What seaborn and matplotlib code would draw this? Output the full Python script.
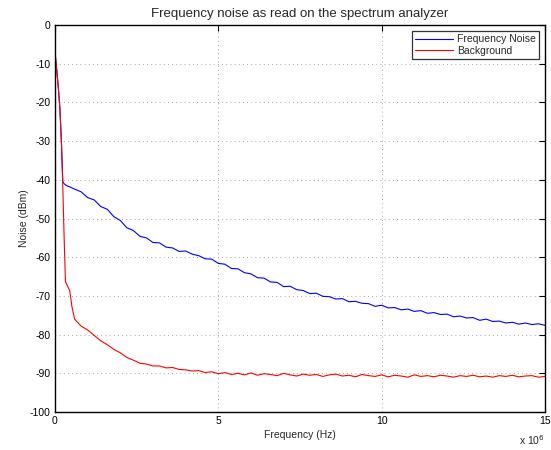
import numpy as np
import pandas as pd
import matplotlib
matplotlib.use("Agg")
import matplotlib.pyplot as plt
from matplotlib.ticker import FuncFormatter
import seaborn as sns

# frequency bins (MHz)
freq_mhz = [0.0, 0.05, 0.1, 0.15, 0.2, 0.24, 0.28, 0.32, 0.38, 0.45, 0.52, 0.6,
            0.8, 1.0, 1.2, 1.4, 1.6, 1.8, 2.0, 2.2, 2.4, 2.6, 2.8, 3.0,
            3.2, 3.4, 3.6, 3.8, 4.0, 4.2, 4.4, 4.6, 4.8, 5.0, 5.2, 5.4,
            5.6, 5.8, 6.0, 6.2, 6.4, 6.6, 6.8, 7.0, 7.2, 7.4, 7.6, 7.8,
            8.0, 8.2, 8.4, 8.6, 8.8, 9.0, 9.2, 9.4, 9.6, 9.8, 10.0, 10.2,
            10.4, 10.6, 10.8, 11.0, 11.2, 11.4, 11.6, 11.8, 12.0, 12.2, 12.4, 12.6,
            12.8, 13.0, 13.2, 13.4, 13.6, 13.8, 14.0, 14.2, 14.4, 14.6, 14.8, 15.0]

freq_noise = [-7.0, -11.3, -16.0, -21.5, -31.0, -40.5, -41.0, -41.3, -41.6, -41.8, -42.1, -42.4,
              -43.1, -44.6, -45.2, -46.9, -47.6, -49.5, -50.5, -52.4, -53.1, -54.6, -55.0, -56.2,
              -56.3, -57.4, -57.6, -58.5, -58.4, -59.2, -59.6, -60.4, -60.5, -61.6, -61.8, -62.9,
              -63.0, -64.0, -64.3, -65.3, -65.4, -66.4, -66.5, -67.6, -67.5, -68.4, -68.6, -69.4,
              -69.3, -70.1, -70.2, -70.8, -70.7, -71.5, -71.4, -71.9, -72.0, -72.7, -72.4, -73.1,
              -73.0, -73.6, -73.4, -74.0, -73.8, -74.5, -74.3, -74.8, -74.7, -75.4, -75.2, -75.7,
              -75.6, -76.3, -76.0, -76.6, -76.5, -77.0, -76.8, -77.3, -77.0, -77.4, -77.2, -77.6]

background = [-7.0, -11.3, -16.0, -21.5, -31.0, -42.0, -55.0, -66.3, -67.4, -68.6, -72.8, -76.0,
              -77.8, -78.8, -80.2, -81.6, -82.6, -83.8, -84.7, -85.9, -86.6, -87.4, -87.6, -88.1,
              -88.1, -88.6, -88.5, -89.0, -89.1, -89.4, -89.3, -89.8, -89.6, -90.1, -89.8, -90.3,
              -90.0, -90.4, -89.9, -90.5, -90.1, -90.3, -90.6, -90.0, -90.4, -90.7, -90.2, -90.5,
              -90.3, -90.8, -90.4, -90.2, -90.7, -90.5, -90.9, -90.3, -90.6, -90.8, -90.4, -90.9,
              -90.5, -90.7, -91.0, -90.4, -90.8, -90.6, -90.9, -90.5, -90.7, -91.0, -90.6, -90.8,
              -90.5, -90.9, -90.7, -91.0, -90.6, -90.8, -90.5, -90.9, -90.7, -90.6, -91.0, -90.8]

df = pd.DataFrame({"freq": np.array(freq_mhz) * 1e6,
                   "Frequency Noise": freq_noise,
                   "Background": background})

sns.set_style("white")
plt.rcParams["font.family"] = ["Liberation Sans", "DejaVu Sans"]
plt.rcParams["font.size"] = 7.5
plt.rcParams["axes.unicode_minus"] = False

fig = plt.figure(figsize=(5.51, 4.5), dpi=100)
ax = fig.add_axes([0.0998, 0.0844, 0.8893, 0.86])

sns.lineplot(data=df, x="freq", y="Frequency Noise", color=(0, 0, 1), linewidth=0.8,
             label="Frequency Noise", ax=ax, sort=False)
sns.lineplot(data=df, x="freq", y="Background", color=(1, 0, 0), linewidth=0.8,
             label="Background", ax=ax, sort=False)

ax.set_xlim(0, 15e6)
ax.set_ylim(-100, 0)
ax.set_xticks([0, 5e6, 10e6, 15e6])
ax.set_yticks(np.arange(-100, 1, 10))
ax.xaxis.set_major_formatter(FuncFormatter(lambda v, p: f"{v / 1e6:g}"))
ax.grid(True, linestyle=(0, (1, 4)), color="0.55", linewidth=0.6)
ax.tick_params(direction="in", length=4, width=0.8, top=True, right=True,
               labelsize=7.5, colors="black", pad=3)
for s in ax.spines.values():
    s.set_color("black")
    s.set_linewidth(1.0)

ax.set_title("Frequency noise as read on the spectrum analyzer", fontsize=9.5, pad=6)
ax.set_xlabel("Frequency (Hz)", fontsize=7.5, labelpad=3)
ax.set_ylabel("Noise (dBm)", fontsize=7.5, labelpad=1)
ax.text(1.0, -0.055, r"x 10$^6$", transform=ax.transAxes, ha="right", va="top", fontsize=7.5)

leg = ax.legend(loc="upper right", fontsize=7.5, frameon=True, fancybox=False,
                edgecolor="black", borderaxespad=0.6, handlelength=3.6,
                handletextpad=0.4, borderpad=0.3, labelspacing=0.15)
leg.get_frame().set_linewidth(0.9)

fig.savefig("out.png", dpi=100)
